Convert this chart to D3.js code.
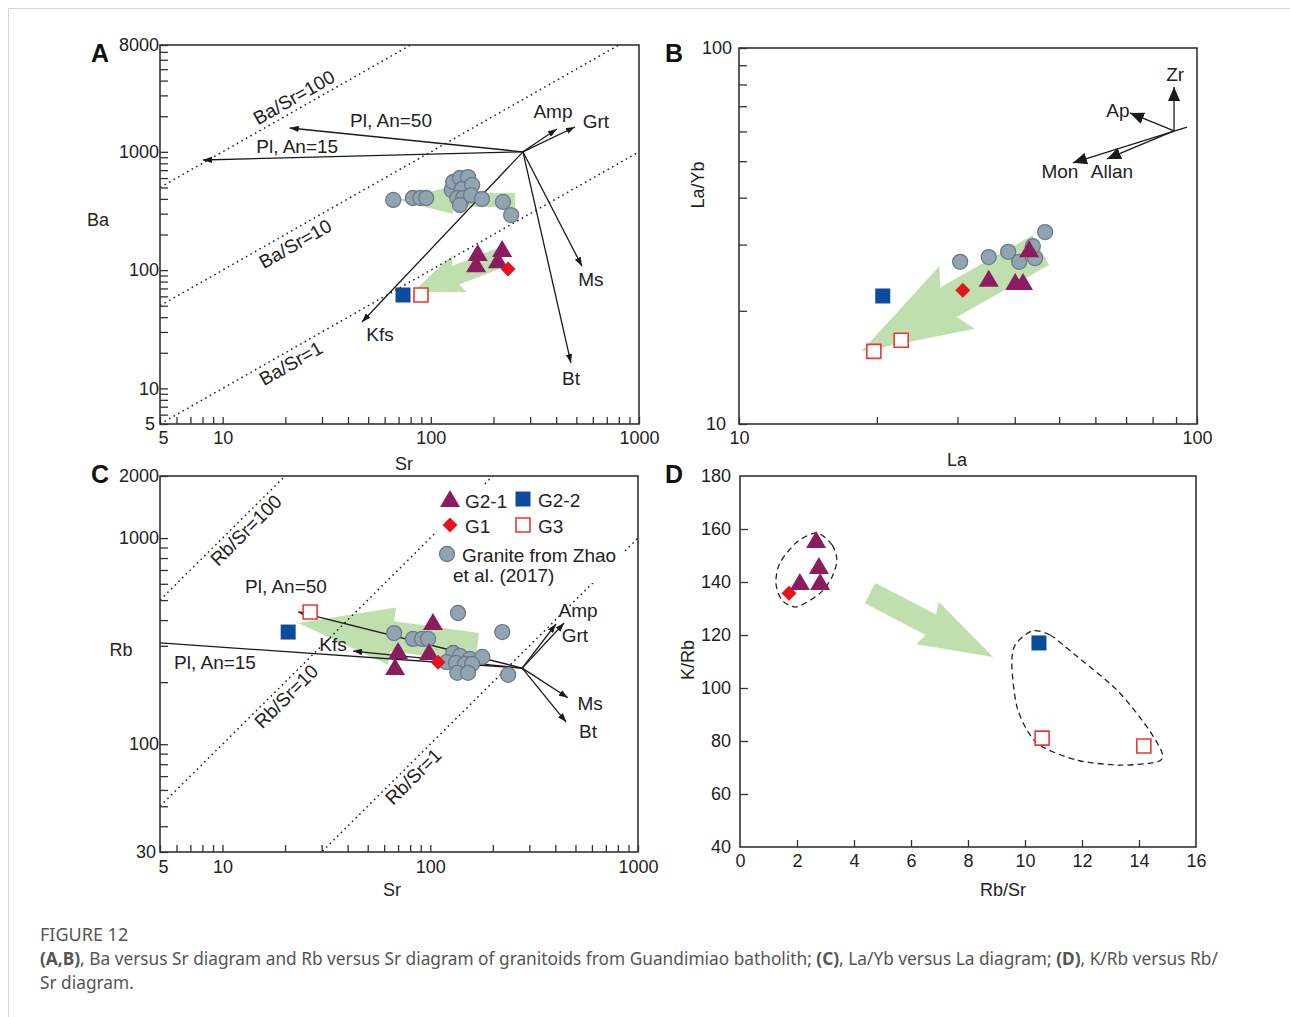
<!DOCTYPE html>
<html lang="en">
<head>
<meta charset="UTF-8">
<title>Figure 12</title>
<script src="https://d3js.org/d3.v7.min.js"></script>
<style>
body{margin:0;background:#fff}
svg{display:block;font-family:"Liberation Sans",Arial,sans-serif}
.tick line{stroke:#333;stroke-width:1.3}
.tick text{fill:#222;font-size:18px;font-family:"Liberation Sans",Arial,sans-serif}
.frame{fill:none;stroke:#333;stroke-width:1.6}
.ratio{fill:none;stroke:#222;stroke-width:1.5;stroke-dasharray:1.6,3.6}
.vec{stroke:#1a1a1a;stroke-width:1.3;fill:none}
.trend{fill:#b9dca6;opacity:.9}
.ann{font-size:19px;fill:#222}
.title{font-size:18px;fill:#222}
.letter{font-size:25px;font-weight:bold;fill:#111}
.group{fill:none;stroke:#222;stroke-width:1.3;stroke-dasharray:6,4}
.cap{font-family:"Noto Sans",sans-serif;fill:#555}
</style>
</head>
<body>
<script>
// ---------- data ----------
// A: Ba vs Sr  [Sr, Ba]
const aZhao = [[66,392],[82,407],[89,407],[95,407],[126,475],[128,556],[138,601],[151,612],[141,485],[158,525],[134,407],[143,407],[156,431],[138,355],[176,399],[222,377],[243,292]];
const aG21 = [[168,137],[165,110],[220,148],[210,119]];
const aG1 = [[235,102]];
const aG22 = [[73.5,61.6]];
const aG3 = [[89.7,61.6]];
const aRatios = [100, 10, 1];
const aRatioLabelSr = [23.5, 20.8, 19.9];
const aVecOrigin = [277, 1000];
const aVectors = [
  { name: 'Pl, An=50', to: [21, 1590], at: [64.4, 1823] },
  { name: 'Pl, An=15', to: [8.05, 853], at: [22.8, 1119] },
  { name: 'Amp', to: [403, 1560], at: [386, 2213] },
  { name: 'Grt', to: [492, 1622], at: [621, 1787] },
  { name: 'Kfs', to: [46.7, 36.4], at: [57, 28.8] },
  { name: 'Ms', to: [532, 108], at: [587, 84] },
  { name: 'Bt', to: [471, 16.4], at: [471, 12.2] }
];
const aTrends = [[[254, 392], [69.5, 392]], [[215, 127], [82, 65.3]]];

// B: La/Yb vs La  [La, La/Yb]
const bZhao = [[30.4,27.0],[35.1,27.8],[38.7,28.7],[40.9,27.0],[44.3,27.6],[43.8,29.7],[46.6,32.4]];
const bG21 = [[35.1,24.2],[40.1,23.7],[41.7,23.7],[43.0,29.0]];
const bG1 = [[30.8,22.7]];
const bG22 = [[20.6,21.9]];
const bG3 = [[19.7,15.6],[22.6,16.7]];
const bVecOrigin = [89.1, 60.2];
const bVectors = [
  { name: 'Zr', to: [89.1, 78.8], at: [89.6, 84.8] },
  { name: 'Ap', to: [71.4, 67.2], at: [67.2, 68.4] },
  { name: 'Mon', from: [95.1, 61.6], to: [53.6, 49.5], at: [50.2, 46.8] },
  { name: 'Allan', to: [63.6, 50.7], at: [65.2, 46.8] }
];
const bTrend = [[45.6, 29.0], [18.5, 15.6]];

// C: Rb vs Sr  [Sr, Rb]
const cZhao = [[136,433],[222,350],[67,346],[82.6,324],[91.3,324],[97.6,324],[129,277],[139,268],[155,259],[178,265],[120,250],[133,248],[147,245],[159,245],[135,222],[152,222],[237,217]];
const cG21 = [[103,387],[70,280],[67.7,234],[98.7,277]];
const cG1 = [[109,250]];
const cG22 = [[20.7,350]];
const cG3 = [[26.4,438]];
const cRatios = [100, 10, 1];
const cRatioLabelSr = [11.9, 18.6, 76];
const cVecOrigin = [277, 234];
const cVectors = [
  { name: 'Pl, An=50', to: [23.1, 438], at: [20.2, 579] },
  { name: 'Pl, An=15', to: [5, 310], at: [9.2, 248], head: false },
  { name: 'Kfs', to: [42.5, 283], at: [34, 303] },
  { name: 'Amp', to: [403, 383], at: [515, 443] },
  { name: 'Grt', to: [441, 387], at: [497, 335] },
  { name: 'Ms', to: [460, 168], at: [588, 157] },
  { name: 'Bt', to: [451, 128], at: [575, 115] }
];
const cTrend = [[168, 293], [23.1, 387]];

// D: K/Rb vs Rb/Sr  [Rb/Sr, K/Rb]
const dG21 = [[2.1,139.6],[2.67,155.5],[2.77,145.7],[2.81,139.6]];
const dG1 = [[1.72,135.8]];
const dG22 = [[10.49,117.0]];
const dG3 = [[10.6,81.1],[14.17,78.1]];
const dGroupA = [[2.70,158.5],[3.23,154.0],[3.40,148.3],[3.23,141.9],[2.81,135.8],[2.0,130.6],[1.47,133.2],[1.26,139.6],[1.40,147.2],[2.0,155.1]];
const dGroupB = [[10.25,121.5],[10.88,120.0],[11.68,113.2],[13.23,99.2],[14.28,85.3],[14.81,75.5],[14.63,72.1],[13.33,70.9],[11.82,72.8],[10.42,79.2],[9.75,91.7],[9.54,107.9],[9.65,116.2]];
const dTrend = [[4.56, 135.8], [8.88, 111.7]];

// ---------- drawing ----------
const W = 1290, H = 1017;
const svg = d3.select('body').append('svg').attr('width', W).attr('height', H);
const defs = svg.append('defs');

svg.append('rect').attr('x', 8.5).attr('y', 8.5).attr('width', W).attr('height', H)
  .attr('fill', 'none').attr('stroke', '#d6d6d6');

function marker(id, w, h) {
  defs.append('marker').attr('id', id).attr('markerUnits', 'userSpaceOnUse')
    .attr('viewBox', `0 ${-h} ${w} ${2 * h}`).attr('refX', w).attr('refY', 0)
    .attr('markerWidth', w).attr('markerHeight', 2 * h).attr('orient', 'auto')
    .append('path').attr('d', `M0,${-h}L${w},0L0,${h}Z`).attr('fill', '#1a1a1a');
}
marker('headS', 9, 3.2);
marker('headL', 14, 6);

function logTicks(lo, hi) {
  const out = [];
  for (let e = Math.floor(Math.log10(lo)); e <= Math.ceil(Math.log10(hi)); e++)
    for (let m = 1; m < 10; m++) {
      const v = m * Math.pow(10, e);
      if (v >= lo && v <= hi) out.push(v);
    }
  return out;
}

function makePanel(p) {
  const x = (p.xLog ? d3.scaleLog() : d3.scaleLinear()).domain(p.xDom).range([p.left, p.right]);
  const y = (p.yLog ? d3.scaleLog() : d3.scaleLinear()).domain(p.yDom).range([p.bottom, p.top]);
  const clipId = 'clip' + p.id;
  defs.append('clipPath').attr('id', clipId).append('rect')
    .attr('x', p.left).attr('y', p.top).attr('width', p.right - p.left).attr('height', p.bottom - p.top);
  const g = svg.append('g');
  const plot = g.append('g').attr('clip-path', `url(#${clipId})`);
  const xTicks = p.xLog ? logTicks(p.xDom[0], p.xDom[1]) : d3.range(p.xDom[0], p.xDom[1] + 1e-9, p.xStep);
  const yTicks = p.yLog ? logTicks(p.yDom[0], p.yDom[1]) : d3.range(p.yDom[0], p.yDom[1] + 1e-9, p.yStep);
  const xa = g.append('g').attr('transform', `translate(0,${p.bottom})`)
    .call(d3.axisBottom(x).tickValues(xTicks).tickSize(-7).tickPadding(p.xPad)
      .tickFormat(d => (!p.xLabels || p.xLabels.includes(d)) ? d : ''))
    .call(a => a.select('.domain').remove());
  const ya = g.append('g').attr('transform', `translate(${p.left},0)`)
    .call(d3.axisLeft(y).tickValues(yTicks).tickSize(-8).tickPadding(p.yPad)
      .tickFormat(d => (!p.yLabels || p.yLabels.includes(d)) ? d : ''))
    .call(a => a.select('.domain').remove());
  // nudge the two labels that meet at the lower-left corner
  const corner = p.corner || [0, 0];
  xa.selectAll('.tick').filter(d => d === p.xDom[0]).select('text').attr('dx', corner[0]);
  ya.selectAll('.tick').filter(d => d === p.yDom[0]).select('text').attr('dx', corner[1]);
  g.append('rect').attr('class', 'frame').attr('x', p.left).attr('y', p.top)
    .attr('width', p.right - p.left).attr('height', p.bottom - p.top);
  g.append('text').attr('class', 'letter').attr('x', p.letterX).attr('y', p.letterY).text(p.id);
  return { x, y, g, plot };
}

const SHAPES = {
  tri: 'M0,-10L10,7L-10,7Z',
  sq: 'M-7.5,-7.5h15v15h-15Z',
  osq: 'M-7,-7h14v14h-14Z',
  dia: 'M0,-7.5L7.5,0L0,7.5L-7.5,0Z',
  circ: d3.symbol(d3.symbolCircle, Math.PI * 7.5 * 7.5)()
};
const STYLE = {
  tri: { fill: '#8c1c60', stroke: 'none', sw: 0 },
  sq: { fill: '#0b4c9f', stroke: 'none', sw: 0 },
  osq: { fill: '#fff', stroke: '#e8392f', sw: 1.6 },
  dia: { fill: '#e5141c', stroke: 'none', sw: 0 },
  circ: { fill: '#91a4b1', stroke: '#6b7c88', sw: 1.3 }
};
function drawPoints(sel, x, y, data, kind) {
  const s = STYLE[kind];
  sel.append('g').selectAll('path').data(data).join('path')
    .attr('transform', d => `translate(${x(d[0])},${y(d[1])})`)
    .attr('d', SHAPES[kind]).attr('fill', s.fill).attr('stroke', s.stroke).attr('stroke-width', s.sw);
}

function arrowPoly(p0, p1, w, hw, hl, sweep) {
  const dx = p1[0] - p0[0], dy = p1[1] - p0[1], L = Math.hypot(dx, dy);
  const ux = dx / L, uy = dy / L, nx = -uy, ny = ux;
  const bx = p1[0] - ux * hl, by = p1[1] - uy * hl;
  const off = (px, py, k, back) => [px + nx * k - ux * back, py + ny * k - uy * back];
  return [off(p0[0], p0[1], w / 2, 0), off(bx, by, w / 2, 0), off(bx, by, hw / 2, sweep),
    p1, off(bx, by, -hw / 2, sweep), off(bx, by, -w / 2, 0), off(p0[0], p0[1], -w / 2, 0)];
}
function drawTrend(sel, x, y, seg, w, hw, hl, sweep) {
  const pts = arrowPoly([x(seg[0][0]), y(seg[0][1])], [x(seg[1][0]), y(seg[1][1])], w, hw, hl, sweep || 0);
  sel.append('path').attr('class', 'trend').attr('d', 'M' + pts.map(p => p.join(',')).join('L') + 'Z');
}

function drawVectors(panel, origin, vecs, head) {
  const { x, y, plot, g } = panel;
  vecs.forEach(v => {
    const s = v.from || origin;
    plot.append('line').attr('class', 'vec')
      .attr('x1', x(s[0])).attr('y1', y(s[1])).attr('x2', x(v.to[0])).attr('y2', y(v.to[1]))
      .attr('marker-end', v.head === false ? null : `url(#${head})`);
    g.append('text').attr('class', 'ann').attr('x', x(v.at[0])).attr('y', y(v.at[1]))
      .attr('text-anchor', 'middle').attr('dominant-baseline', 'central').text(v.name);
  });
}

function drawRatios(panel, ratios, labelSr, yName, offs) {
  const { x, y, plot } = panel;
  const [s0, s1] = x.domain();
  ratios.forEach((r, i) => {
    plot.append('line').attr('class', 'ratio')
      .attr('x1', x(s0)).attr('y1', y(s0 * r)).attr('x2', x(s1)).attr('y2', y(s1 * r));
    const ang = Math.atan2(y(s1 * r) - y(s0 * r), x(s1) - x(s0)) * 180 / Math.PI;
    const sr = labelSr[i];
    panel.g.append('text').attr('class', 'ann')
      .attr('transform', `translate(${x(sr)},${y(sr * r)}) rotate(${ang})`)
      .attr('dy', offs[i]).attr('text-anchor', 'middle').attr('dominant-baseline', 'central')
      .text(`${yName}/Sr=${r}`);
  });
}

function axisTitle(g, txt, x, y, rot) {
  g.append('text').attr('class', 'title')
    .attr('transform', `translate(${x},${y})` + (rot ? ` rotate(${rot})` : ''))
    .attr('text-anchor', 'middle').attr('dominant-baseline', 'central').text(txt);
}

// ----- Panel A -----
const A = makePanel({ id: 'A', left: 160, right: 639, top: 45, bottom: 424,
  xLog: true, yLog: true, xDom: [5, 1000], yDom: [5, 8000],
  xLabels: [5, 10, 100, 1000], yLabels: [5, 10, 100, 1000, 8000], xPad: 7, yPad: 1,
  corner: [3, -4], letterX: 91, letterY: 62 });
drawTrend(A.plot, A.x, A.y, aTrends[0], 14, 28, 55);
drawTrend(A.plot, A.x, A.y, aTrends[1], 20, 40, 46, 4);
drawRatios(A, aRatios, aRatioLabelSr, 'Ba', [-12, 13, 12]);
drawVectors(A, aVecOrigin, aVectors, 'headS');
drawPoints(A.plot, A.x, A.y, aZhao, 'circ');
drawPoints(A.plot, A.x, A.y, aG21, 'tri');
drawPoints(A.plot, A.x, A.y, aG1, 'dia');
drawPoints(A.plot, A.x, A.y, aG22, 'sq');
drawPoints(A.plot, A.x, A.y, aG3, 'osq');
axisTitle(A.g, 'Ba', 98, 220);
axisTitle(A.g, 'Sr', 404, 464);

// ----- Panel B -----
const B = makePanel({ id: 'B', left: 739, right: 1197, top: 48, bottom: 424,
  xLog: true, yLog: true, xDom: [10, 100], yDom: [10, 100],
  xLabels: [10, 100], yLabels: [10, 100], xPad: 7, yPad: 7,
  corner: [0, -6], letterX: 665, letterY: 62 });
drawTrend(B.plot, B.x, B.y, bTrend, 34, 72, 100, 10);
drawVectors(B, bVecOrigin, bVectors, 'headL');
drawPoints(B.plot, B.x, B.y, bZhao, 'circ');
drawPoints(B.plot, B.x, B.y, bG21, 'tri');
drawPoints(B.plot, B.x, B.y, bG1, 'dia');
drawPoints(B.plot, B.x, B.y, bG22, 'sq');
drawPoints(B.plot, B.x, B.y, bG3, 'osq');
axisTitle(B.g, 'La/Yb', 698, 185, -90);
axisTitle(B.g, 'La', 957, 460);

// ----- Panel C -----
const C = makePanel({ id: 'C', left: 160, right: 638, top: 476, bottom: 852,
  xLog: true, yLog: true, xDom: [5, 1000], yDom: [30, 2000],
  xLabels: [5, 10, 100, 1000], yLabels: [30, 100, 1000, 2000], xPad: 8, yPad: 1,
  corner: [3, -3], letterX: 91, letterY: 483 });
drawTrend(C.plot, C.x, C.y, cTrend, 30, 58, 95);
drawRatios(C, cRatios, cRatioLabelSr, 'Rb', [11, 11, 11]);
drawVectors(C, cVecOrigin, cVectors, 'headS');
drawPoints(C.plot, C.x, C.y, cZhao, 'circ');
drawPoints(C.plot, C.x, C.y, cG21, 'tri');
drawPoints(C.plot, C.x, C.y, cG1, 'dia');
drawPoints(C.plot, C.x, C.y, cG22, 'sq');
drawPoints(C.plot, C.x, C.y, cG3, 'osq');
axisTitle(C.g, 'Rb', 121, 650);
axisTitle(C.g, 'Sr', 392, 890);

// legend
const leg = C.g.append('g');
leg.append('rect').attr('x', 437).attr('y', 486).attr('width', 186).attr('height', 97).attr('fill', '#fff');
const legItems = [
  { kind: 'tri', label: 'G2-1', x: 450, y: 500 },
  { kind: 'sq', label: 'G2-2', x: 523, y: 499 },
  { kind: 'dia', label: 'G1', x: 450, y: 525 },
  { kind: 'osq', label: 'G3', x: 523, y: 525 },
  { kind: 'circ', label: 'Granite from Zhao', x: 447, y: 554 }
];
legItems.forEach(it => {
  const s = STYLE[it.kind];
  leg.append('path').attr('transform', `translate(${it.x},${it.y})`).attr('d', SHAPES[it.kind])
    .attr('fill', s.fill).attr('stroke', s.stroke).attr('stroke-width', s.sw);
  leg.append('text').attr('class', 'ann').attr('x', it.x + 15).attr('y', it.y + 1)
    .attr('dominant-baseline', 'central').text(it.label);
});
leg.append('text').attr('class', 'ann').attr('x', 453).attr('y', 575).attr('dominant-baseline', 'central').text('et al. (2017)');

// ----- Panel D -----
const D = makePanel({ id: 'D', left: 740, right: 1196, top: 476, bottom: 847,
  xLog: false, yLog: false, xDom: [0, 16], yDom: [40, 180], xStep: 2, yStep: 20,
  xPad: 7, yPad: 9, letterX: 665, letterY: 483 });
D.g.selectAll('.tick').filter(d => d === 0 || d === 16 || d === 40 || d === 180).select('line').remove();
drawTrend(D.plot, D.x, D.y, dTrend, 23, 48, 70, 4);
const closed = d3.line().x(d => D.x(d[0])).y(d => D.y(d[1])).curve(d3.curveCardinalClosed.tension(0.2));
D.plot.append('path').attr('class', 'group').attr('d', closed(dGroupA));
D.plot.append('path').attr('class', 'group').attr('d', closed(dGroupB));
drawPoints(D.plot, D.x, D.y, dG21, 'tri');
drawPoints(D.plot, D.x, D.y, dG1, 'dia');
drawPoints(D.plot, D.x, D.y, dG22, 'sq');
drawPoints(D.plot, D.x, D.y, dG3, 'osq');
axisTitle(D.g, 'K/Rb', 688, 660, -90);
axisTitle(D.g, 'Rb/Sr', 1003, 890);

// ----- caption -----
svg.append('text').attr('class', 'cap').attr('x', 40).attr('y', 941).style('font-size', '18px').text('FIGURE 12');
const cap1 = svg.append('text').attr('class', 'cap').attr('x', 40).attr('y', 965).style('font-size', '17.3px');
[['(A,B)', 1], [', Ba versus Sr diagram and Rb versus Sr diagram of granitoids from Guandimiao batholith; ', 0],
 ['(C)', 1], [', La/Yb versus La diagram; ', 0], ['(D)', 1], [', K/Rb versus Rb/', 0]]
  .forEach(([t, b]) => cap1.append('tspan').style('font-weight', b ? 'bold' : 'normal').text(t));
svg.append('text').attr('class', 'cap').attr('x', 40).attr('y', 989).style('font-size', '17.3px').text('Sr diagram.');
</script>
</body>
</html>
